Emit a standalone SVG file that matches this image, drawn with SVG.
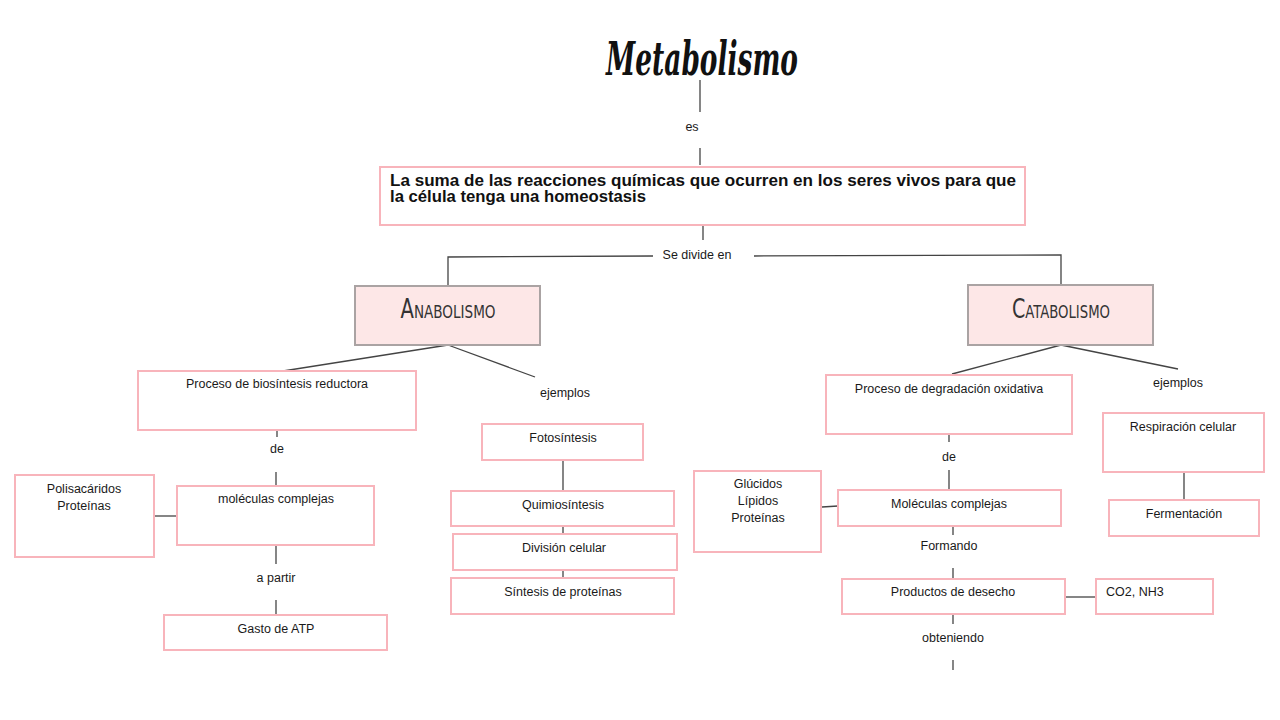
<svg xmlns="http://www.w3.org/2000/svg" width="1280" height="720" viewBox="0 0 1280 720">
<style>
.box{fill:#fff;stroke:#f8b4bb;stroke-width:2}
.main{fill:#fde7e7;stroke:#aaa3a3;stroke-width:2}
.t{font-family:"Liberation Sans",Arial,sans-serif;font-size:12.5px;fill:#1a1a1a;text-anchor:middle;dominant-baseline:central}
.head{font-family:"DejaVu Sans","Liberation Sans",sans-serif;font-stretch:condensed;font-variant:small-caps;font-size:26px;fill:#333;text-anchor:middle;dominant-baseline:central}
.c line,.c polyline{stroke:#444;stroke-width:1.3;fill:none}
</style>
<rect width="1280" height="720" fill="#fff"/>
<g id="title">
<text x="702" y="75" font-family="'DejaVu Serif','Liberation Serif',serif" font-weight="bold" font-style="italic" font-size="46" text-anchor="middle" textLength="192" lengthAdjust="spacingAndGlyphs" fill="#111">Metabolismo</text>
</g>
<g class="c" id="connectors">
<line x1="700" y1="80" x2="700" y2="112"/>
<line x1="700" y1="148" x2="700" y2="165"/>
<line x1="703" y1="226" x2="703" y2="240"/>
<polyline points="653,256 448,257 448,286"/>
<polyline points="754,256 1061,255 1061,285"/>
<line x1="448" y1="345" x2="283" y2="371"/>
<line x1="448" y1="345" x2="535" y2="377"/>
<line x1="1061" y1="345" x2="952" y2="374"/>
<line x1="1061" y1="345" x2="1178" y2="369"/>
<line x1="277" y1="430" x2="277" y2="437"/>
<line x1="276" y1="472" x2="276" y2="486"/>
<line x1="154" y1="516" x2="177" y2="516"/>
<line x1="276" y1="545" x2="276" y2="564"/>
<line x1="276" y1="600" x2="276" y2="614"/>
<line x1="563" y1="460" x2="563" y2="490"/>
<line x1="563" y1="526" x2="563" y2="534"/>
<line x1="563" y1="570" x2="563" y2="578"/>
<line x1="949" y1="434" x2="949" y2="442"/>
<line x1="949" y1="470" x2="949" y2="489"/>
<line x1="822" y1="507" x2="838" y2="506"/>
<line x1="953" y1="526" x2="953" y2="535"/>
<line x1="953" y1="568" x2="953" y2="578"/>
<line x1="1065" y1="597" x2="1096" y2="597"/>
<line x1="953" y1="615" x2="953" y2="624"/>
<line x1="953" y1="660" x2="953" y2="670"/>
<line x1="1184" y1="472" x2="1184" y2="499"/>
</g>
<g id="labels">
<text class="t" x="692" y="127">es</text>
<text class="t" x="697" y="255">Se divide en</text>
<text class="t" x="565" y="393">ejemplos</text>
<text class="t" x="1178" y="383">ejemplos</text>
<text class="t" x="277" y="449">de</text>
<text class="t" x="276" y="578">a partir</text>
<text class="t" x="949" y="457">de</text>
<text class="t" x="949" y="546">Formando</text>
<text class="t" x="953" y="638">obteniendo</text>
</g>
<g id="definicion">
<rect class="box" x="380" y="167" width="645" height="58"/>
<text x="390" y="186" font-family="'Liberation Sans',Arial,sans-serif" font-weight="bold" font-size="16" fill="#111" textLength="626" lengthAdjust="spacingAndGlyphs">La suma de las reacciones químicas que ocurren en los seres vivos para que</text>
<text x="390" y="202" font-family="'Liberation Sans',Arial,sans-serif" font-weight="bold" font-size="16" fill="#111" textLength="256" lengthAdjust="spacingAndGlyphs">la célula tenga una homeostasis</text>
</g>
<g id="anabolismo">
<rect class="main" x="355" y="286" width="185" height="59"/>
<text class="head" x="448" y="309" textLength="95" lengthAdjust="spacingAndGlyphs">Anabolismo</text>
</g>
<g id="catabolismo">
<rect class="main" x="968" y="285" width="185" height="60"/>
<text class="head" x="1061" y="309" textLength="98" lengthAdjust="spacingAndGlyphs">Catabolismo</text>
</g>
<g id="biosintesis">
<rect class="box" x="138" y="371" width="278" height="59"/>
<text class="t" x="277" y="384">Proceso de biosíntesis reductora</text>
</g>
<g id="moleculas-ana">
<rect class="box" x="177" y="486" width="197" height="59"/>
<text class="t" x="276" y="499">moléculas complejas</text>
</g>
<g id="polisacaridos">
<rect class="box" x="15" y="475" width="139" height="82"/>
<text class="t" x="84" y="489">Polisacáridos</text>
<text class="t" x="84" y="506">Proteínas</text>
</g>
<g id="atp">
<rect class="box" x="164" y="615" width="223" height="35"/>
<text class="t" x="276" y="629">Gasto de ATP</text>
</g>
<g id="fotosintesis">
<rect class="box" x="482" y="424" width="161" height="36"/>
<text class="t" x="563" y="438">Fotosíntesis</text>
</g>
<g id="quimiosintesis">
<rect class="box" x="451" y="491" width="223" height="35"/>
<text class="t" x="563" y="505">Quimiosíntesis</text>
</g>
<g id="division">
<rect class="box" x="453" y="534" width="224" height="36"/>
<text class="t" x="564" y="548">División celular</text>
</g>
<g id="sintesis">
<rect class="box" x="451" y="578" width="223" height="36"/>
<text class="t" x="563" y="592">Síntesis de proteínas</text>
</g>
<g id="degradacion">
<rect class="box" x="826" y="375" width="246" height="59"/>
<text class="t" x="949" y="389">Proceso de degradación oxidativa</text>
</g>
<g id="glucidos">
<rect class="box" x="694" y="471" width="127" height="81"/>
<text class="t" x="758" y="484">Glúcidos</text>
<text class="t" x="758" y="501">Lípidos</text>
<text class="t" x="758" y="518">Proteínas</text>
</g>
<g id="moleculas-cata">
<rect class="box" x="838" y="490" width="223" height="36"/>
<text class="t" x="949" y="504">Moléculas complejas</text>
</g>
<g id="productos">
<rect class="box" x="842" y="579" width="223" height="35"/>
<text class="t" x="953" y="592">Productos de desecho</text>
</g>
<g id="co2">
<rect class="box" x="1096" y="579" width="117" height="35"/>
<text class="t" x="1106" y="592" style="text-anchor:start">CO2, NH3</text>
</g>
<g id="respiracion">
<rect class="box" x="1103" y="413" width="161" height="59"/>
<text class="t" x="1183" y="427">Respiración celular</text>
</g>
<g id="fermentacion">
<rect class="box" x="1109" y="500" width="150" height="36"/>
<text class="t" x="1184" y="514">Fermentación</text>
</g>
</svg>
